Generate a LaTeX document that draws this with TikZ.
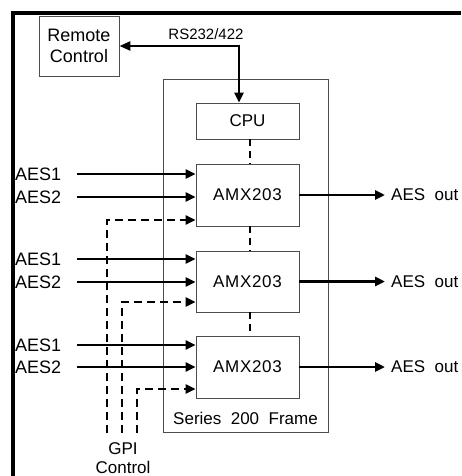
\documentclass[tikz,border=0pt]{standalone}
\usepackage{fontspec}
\setmainfont{Liberation Sans}
\usetikzlibrary{arrows.meta}
\newcommand\lblfont{\fontsize{17}{21}\selectfont}
\newcommand\bigfont{\fontsize{18}{21}\selectfont}
\newcommand\rsfont{\fontsize{15}{18}\selectfont}
\newcommand\amxfont{\fontsize{17}{21}\selectfont\addfontfeature{LetterSpace=4}}
\begin{document}
\begin{tikzpicture}[x=1pt,y=-1pt,
  box/.style={draw=black!70, line width=0.9pt, minimum width=103pt, inner sep=0pt, font=\lblfont},
  sig/.style={line width=2.6pt, -{Triangle[length=10pt,width=9pt]}},
  dbl/.style={line width=2.6pt, {Triangle[length=11pt,width=9pt]}-{Triangle[length=10pt,width=9pt]}},
  ctl/.style={sig, dash pattern=on 8pt off 5pt},
  link/.style={line width=2.6pt, dash pattern=on 7pt off 5pt},
  lab/.style={inner sep=0pt, font=\lblfont},
  inlab/.style={lab, anchor=west, font=\bigfont}]
\useasboundingbox (0,0) rectangle (461,476);
\fill[white] (0,0) rectangle (461,476);
\draw[line width=4pt] (13,476) -- (13,13) -- (461,13);

% boxes
\node[box, minimum width=80pt, minimum height=60pt, align=center, font=\bigfont] (rc) at (79,46) {Remote\\Control};
\node[draw=black!70, line width=0.9pt, minimum width=165pt, minimum height=353pt, inner sep=0pt] (frame) at (245.5,255.5) {};
\node[box, minimum height=36pt] (cpu) at (247.5,121) {CPU};
\node[box, minimum height=62pt, font=\amxfont] (amx1) at (247.5,195) {AMX203};
\node[box, minimum height=61pt, font=\amxfont] (amx2) at (247.5,281.5) {AMX203};
\node[box, minimum height=62pt, font=\amxfont] (amx3) at (247.5,367) {AMX203};
\node[lab] (sf) at (245.5,418) {Series\ \ 200\ \ Frame};

% RS232 link
\node[inner sep=0pt, font=\rsfont] (rs) at (206,34) {RS232/422};
\coordinate (k) at (239,0);
\draw[dbl] (rc.east) -| (cpu.north -| k);

% internal links
\coordinate (lx) at (250,0);
\draw[link] (cpu.south -| lx) -- (amx1.north -| lx);
\draw[link] (amx1.south -| lx) -- (amx2.north -| lx);
\draw[link] (amx2.south -| lx) -- (amx3.north -| lx);

% inputs block 1
\node[inlab] (a11) at (15,174) {AES1};
\node[inlab] (a12) at (15,197) {AES2};
\coordinate (s11) at (77,174);
\coordinate (s12) at (77,197);
\draw[sig] (s11) -- (amx1.west |- s11);
\draw[sig] (s12) -- (amx1.west |- s12);
% inputs block 2
\node[inlab] (a21) at (15,259) {AES1};
\node[inlab] (a22) at (15,282) {AES2};
\coordinate (s21) at (77,259);
\coordinate (s22) at (77,282);
\draw[sig] (s21) -- (amx2.west |- s21);
\draw[sig] (s22) -- (amx2.west |- s22);
% inputs block 3
\node[inlab] (a31) at (15,345) {AES1};
\node[inlab] (a32) at (15,367) {AES2};
\coordinate (s31) at (77,345);
\coordinate (s32) at (77,367);
\draw[sig] (s31) -- (amx3.west |- s31);
\draw[sig] (s32) -- (amx3.west |- s32);

% GPI control
\node[lab] (gpi) at (123,449) {GPI};
\node[lab] (ctrl) at (123,467.5) {Control};
\coordinate (g1) at (107,433);
\coordinate (g2) at (122,433);
\coordinate (g3) at (137,433);
\coordinate (c1) at (0,220);
\coordinate (c2) at (0,302);
\coordinate (c3) at (0,389);
\draw[ctl] (g1) |- (amx1.west |- c1);
\draw[ctl] (g2) |- (amx2.west |- c2);
\draw[ctl] (g3) |- (amx3.west |- c3);

% outputs
\coordinate (ox) at (385,0);
\draw[sig] (amx1.east) -- (amx1.east -| ox);
\draw[sig] (amx2.east) -- (amx2.east -| ox);
\draw[sig] (amx3.east) -- (amx3.east -| ox);
\node[lab, anchor=west] (o1) at (391,195) {AES\ \ out};
\node[lab, anchor=west] (o2) at (391,281.5) {AES\ \ out};
\node[lab, anchor=west] (o3) at (391,367) {AES\ \ out};
\end{tikzpicture}
\end{document}
